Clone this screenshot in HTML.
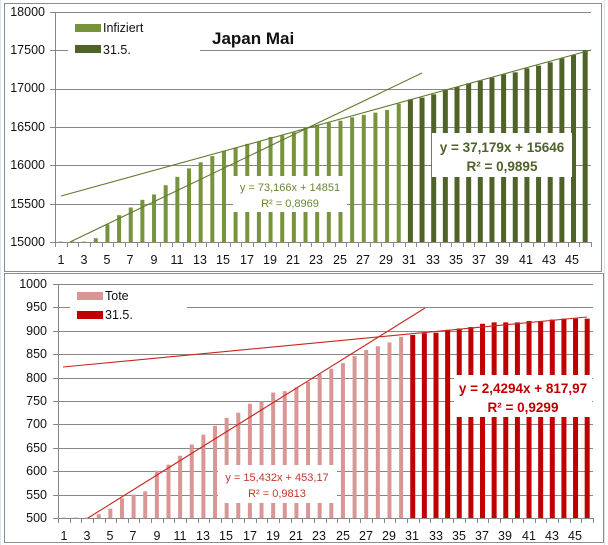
<!DOCTYPE html>
<html><head><meta charset="utf-8">
<style>
html,body{margin:0;padding:0;background:#fff;}
svg{display:block;font-family:"Liberation Sans",sans-serif;}
</style></head>
<body>
<svg id="s" width="608" height="545" viewBox="0 0 608 545" xmlns="http://www.w3.org/2000/svg">
<rect x="0" y="0" width="608" height="545" fill="#fff"/>
<g stroke="#dbe3ee" stroke-width="1">
<line x1="0.5" y1="0" x2="0.5" y2="545"/>
<line x1="604.5" y1="0" x2="604.5" y2="545"/>
</g>
<rect x="4.5" y="3.5" width="597" height="268" fill="#fff" stroke="#8c8c8c"/>
<rect x="4.5" y="273.5" width="599" height="269" fill="#fff" stroke="#8c8c8c"/>
<g id="top"></g>
<g id="bot"></g>

<g font-size="12.5" fill="#111" text-anchor="end">
<text x="45" y="16">18000</text>
<text x="45" y="54">17500</text>
<text x="45" y="92">17000</text>
<text x="45" y="131">16500</text>
<text x="45" y="169">16000</text>
<text x="45" y="208">15500</text>
<text x="45" y="246">15000</text>
</g>
<g font-size="12.5" fill="#111" text-anchor="middle">
<text x="61" y="264">1</text><text x="84" y="264">3</text><text x="107" y="264">5</text><text x="130" y="264">7</text><text x="154" y="264">9</text><text x="177" y="264">11</text><text x="200" y="264">13</text><text x="223" y="264">15</text><text x="247" y="264">17</text><text x="270" y="264">19</text><text x="293" y="264">21</text><text x="316" y="264">23</text><text x="340" y="264">25</text><text x="363" y="264">27</text><text x="386" y="264">29</text><text x="409" y="264">31</text><text x="433" y="264">33</text><text x="456" y="264">35</text><text x="479" y="264">37</text><text x="502" y="264">39</text><text x="526" y="264">41</text><text x="549" y="264">43</text><text x="572" y="264">45</text>
</g>
<g font-size="12.5" fill="#111" text-anchor="end">
<text x="47" y="288">1000</text>
<text x="47" y="311">950</text>
<text x="47" y="335">900</text>
<text x="47" y="358">850</text>
<text x="47" y="382">800</text>
<text x="47" y="405">750</text>
<text x="47" y="428">700</text>
<text x="47" y="452">650</text>
<text x="47" y="475">600</text>
<text x="47" y="499">550</text>
<text x="47" y="522">500</text>
</g>
<g font-size="12.5" fill="#111" text-anchor="middle">
<text x="64" y="540">1</text><text x="87" y="540">3</text><text x="110" y="540">5</text><text x="133" y="540">7</text><text x="157" y="540">9</text><text x="180" y="540">11</text><text x="203" y="540">13</text><text x="226" y="540">15</text><text x="250" y="540">17</text><text x="273" y="540">19</text><text x="296" y="540">21</text><text x="319" y="540">23</text><text x="343" y="540">25</text><text x="366" y="540">27</text><text x="389" y="540">29</text><text x="412" y="540">31</text><text x="436" y="540">33</text><text x="459" y="540">35</text><text x="482" y="540">37</text><text x="505" y="540">39</text><text x="529" y="540">41</text><text x="552" y="540">43</text><text x="575" y="540">45</text>
</g>

<g id="ov">
<rect x="68" y="14" width="132" height="44" fill="#fff"/>
<rect x="75" y="24" width="26" height="8" fill="#77933c"/>
<rect x="75" y="45" width="26" height="8" fill="#4f6228"/>
<text x="103" y="32" font-size="12.5" fill="#111">Infiziert</text>
<text x="103" y="54" font-size="12.5" fill="#111">31.5.</text>
<rect x="205" y="26" width="95" height="22" fill="#fff"/>
<text x="212" y="44" font-size="17" font-weight="bold" fill="#111">Japan Mai</text>

<rect x="233" y="176" width="114" height="36" fill="#fff"/>
<text x="290" y="191" font-size="11" fill="#6b8535" text-anchor="middle">y = 73,166x + 14851</text>
<text x="290" y="207" font-size="11" fill="#6b8535" text-anchor="middle">R² = 0,8969</text>

<rect x="432" y="133" width="140" height="44" fill="#fff"/>
<text x="502" y="152" font-size="13.5" font-weight="bold" fill="#4f6228" text-anchor="middle">y = 37,179x + 15646</text>
<text x="502" y="171" font-size="13.5" font-weight="bold" fill="#4f6228" text-anchor="middle">R² = 0,9895</text>

<rect x="70" y="286" width="117" height="36" fill="#fff"/>
<rect x="77" y="292" width="26" height="8" fill="#d99694"/>
<rect x="77" y="311" width="26" height="8" fill="#c00000"/>
<text x="105" y="300" font-size="12.5" fill="#111">Tote</text>
<text x="105" y="319" font-size="12.5" fill="#111">31.5.</text>

<rect x="218" y="465" width="119" height="38" fill="#fff"/>
<text x="277" y="481" font-size="11" fill="#c0392b" text-anchor="middle">y = 15,432x + 453,17</text>
<text x="277" y="497" font-size="11" fill="#c0392b" text-anchor="middle">R² = 0,9813</text>

<rect x="454" y="375" width="138" height="42" fill="#fff"/>
<text x="523" y="393" font-size="13.5" font-weight="bold" fill="#c00000" text-anchor="middle">y = 2,4294x + 817,97</text>
<text x="523" y="412" font-size="13.5" font-weight="bold" fill="#c00000" text-anchor="middle">R² = 0,9299</text>
</g>
</svg>
<script>
(function(){
var NS="http://www.w3.org/2000/svg";
function el(p,t,a){var e=document.createElementNS(NS,t);for(var k in a)e.setAttribute(k,a[k]);p.appendChild(e);return e;}
function chart(g,x0,x1,yTop,yBot,vMin,vMax,step,vals,c1,c2,tl){
  var gl=el(g,"g",{stroke:"#878787","stroke-width":"1"});
  for(var v=vMin;v<=vMax+1e-9;v+=step){var y=Math.round(yBot-(v-vMin)/(vMax-vMin)*(yBot-yTop))+0.5;el(gl,"line",{x1:x0-5,y1:y,x2:x1,y2:y});}
  el(gl,"line",{x1:x0+0.5,y1:yTop,x2:x0+0.5,y2:yBot+0.5});
  var w=(x1-x0)/46;
  for(var i=0;i<=46;i++){var x=Math.round(x0+i*w)+0.5;el(gl,"line",{x1:x,y1:yBot,x2:x,y2:yBot+5});}
  for(var i=0;i<46;i++){
    var cx=x0+(i+0.5)*w, v=vals[i], y=yBot-(v-vMin)/(vMax-vMin)*(yBot-yTop);
    var bw=i<30?4:5;
    el(g,"rect",{x:cx-bw/2,y:y,width:bw,height:Math.max(yBot-y,0.8),fill:i<30?c1:c2});
  }
  for(var j=0;j<tl.length;j++){var l=tl[j];el(g,"line",{x1:l[0],y1:l[1],x2:l[2],y2:l[3],stroke:l[4],"stroke-width":"1.1"});}
}
var tv=[15005,15005,15005,15050,15230,15350,15450,15550,15620,15740,15850,15960,16040,16120,16190,16230,16280,16310,16370,16390,16430,16500,16526,16556,16582,16626,16657,16687,16722,16804,16861,16883,16926,16987,17022,17070,17104,17143,17187,17213,17265,17300,17344,17396,17439,17504];
var bv=[501,501,501,508,520,542,550,557,601,614,633,657,678,697,714,725,744,749,768,771,779,791,808,819,831,846,859,867,875,887,891,895,896,902,905,908,915,918,918,918,921,921,924,926,926,926];
chart(document.getElementById("top"),55,591,12,242,15000,18000,500,tv,"#77933c","#4f6228",
 [[61,196,591,50,"#5f7a2e"],[70,242,422,73,"#5f7a2e"]]);
chart(document.getElementById("bot"),58,593,284,518,500,1000,50,bv,"#d99694","#c00000",
 [[63,367,587,317,"#c8281e"],[88,518,425,308,"#c8281e"]]);
var s=document.getElementById("s");s.appendChild(document.getElementById("ov"));
})();
</script>
</body></html>
